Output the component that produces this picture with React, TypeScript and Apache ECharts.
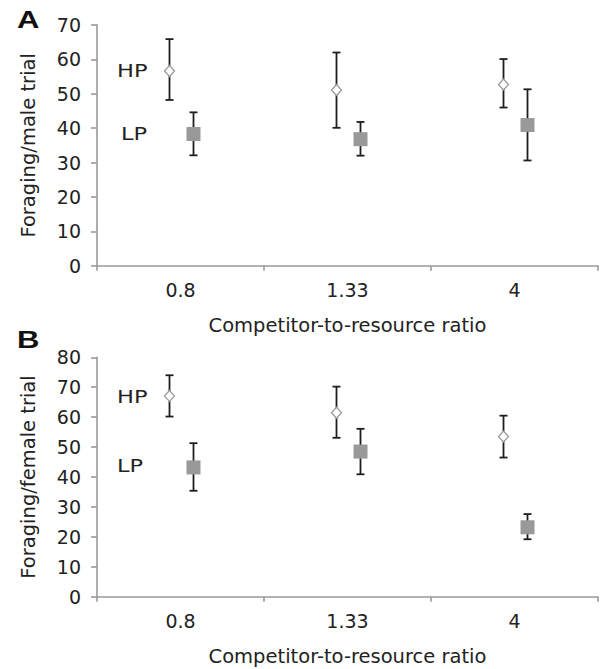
import React, { useEffect, useRef } from "react";
import * as echarts from "echarts";

const categories = ["0.8", "1.33", "4"];

const maleHP = [56.6, 51.1, 52.7];
const maleHPLow = [48.2, 40.1, 46.0];
const maleHPHigh = [65.9, 62.0, 60.1];
const maleLP = [38.3, 36.8, 40.9];
const maleLPLow = [32.1, 32.0, 30.6];
const maleLPHigh = [44.6, 41.8, 51.3];

const femaleHP = [67.1, 61.5, 53.5];
const femaleHPLow = [60.2, 53.1, 46.5];
const femaleHPHigh = [74.0, 70.2, 60.5];
const femaleLP = [43.2, 48.5, 23.2];
const femaleLPLow = [35.4, 40.9, 19.2];
const femaleLPHigh = [51.3, 56.1, 27.6];

const FONT = "DejaVu Sans";
const TEXT = "#222222";
const AXIS = "#9a9a9a";
const HP_OFF = -11;
const LP_OFF = 13;

function errorSeries(gridIdx: number, low: number[], high: number[], off: number) {
  return {
    type: "custom",
    xAxisIndex: gridIdx,
    yAxisIndex: gridIdx,
    z: 2,
    data: low.map((l, i) => [i, l, high[i]]),
    renderItem: (params: any, api: any) => {
      const i = api.value(0);
      const top = api.coord([i, api.value(2)]);
      const bot = api.coord([i, api.value(1)]);
      const x = top[0] + off;
      const cap = 4;
      const style = { stroke: "#1e1e1e", lineWidth: 1.8 };
      return {
        type: "group",
        children: [
          { type: "line", shape: { x1: x, y1: top[1], x2: x, y2: bot[1] }, style },
          { type: "line", shape: { x1: x - cap, y1: top[1], x2: x + cap, y2: top[1] }, style },
          { type: "line", shape: { x1: x - cap, y1: bot[1], x2: x + cap, y2: bot[1] }, style },
        ],
      };
    },
  };
}

function hpSeries(gridIdx: number, values: number[]) {
  return {
    type: "scatter",
    xAxisIndex: gridIdx,
    yAxisIndex: gridIdx,
    z: 5,
    symbol: "diamond",
    symbolSize: [10, 11],
    symbolOffset: [HP_OFF, 0],
    itemStyle: { color: "#ffffff", borderColor: "#9a9a9a", borderWidth: 1.3, opacity: 1 },
    data: values,
  };
}

function lpSeries(gridIdx: number, values: number[]) {
  return {
    type: "scatter",
    xAxisIndex: gridIdx,
    yAxisIndex: gridIdx,
    z: 5,
    symbol: "rect",
    symbolSize: 14,
    symbolOffset: [LP_OFF, 0],
    itemStyle: { color: "#999999", opacity: 1 },
    data: values,
  };
}

function xAxis(gridIdx: number) {
  return {
    type: "category",
    gridIndex: gridIdx,
    data: categories,
    boundaryGap: true,
    axisLine: { lineStyle: { color: AXIS, width: 1.6 } },
    axisTick: { show: true, length: 5, lineStyle: { color: AXIS, width: 1.6 } },
    axisLabel: { color: TEXT, fontSize: 19, fontFamily: FONT, margin: 15 },
    name: "Competitor-to-resource ratio",
    nameLocation: "middle",
    nameGap: 50,
    nameTextStyle: { color: TEXT, fontSize: 19.5, fontFamily: FONT },
  };
}

function yAxis(gridIdx: number, max: number, name: string) {
  return {
    type: "value",
    gridIndex: gridIdx,
    min: 0,
    max,
    interval: 10,
    splitLine: { show: false },
    axisLine: { show: true, lineStyle: { color: AXIS, width: 1.6 } },
    axisTick: { show: true, length: 6, lineStyle: { color: AXIS, width: 1.6 } },
    axisLabel: { color: TEXT, fontSize: 19, fontFamily: FONT, margin: 16 },
    name,
    nameLocation: "middle",
    nameGap: 59,
    nameTextStyle: { color: TEXT, fontSize: 19.5, fontFamily: FONT },
  };
}

export default function App() {
  const ref = useRef<HTMLDivElement>(null);
  useEffect(() => {
    if (!ref.current) return;
    const chart = echarts.init(ref.current, null, { renderer: "svg" });
    const labelStyle = { fill: TEXT, fontSize: 18, fontFamily: FONT };
    const letterStyle = { fill: "#111", fontSize: 23, fontWeight: "bold", fontFamily: "Liberation Sans" };
    chart.setOption({
      animation: false,
      backgroundColor: "#ffffff",
      grid: [
        { left: 97, right: 2, top: 25, height: 240.7 },
        { left: 97, right: 2, top: 357.3, height: 239.4 },
      ],
      xAxis: [xAxis(0), xAxis(1)],
      yAxis: [yAxis(0, 70, "Foraging/male trial"), yAxis(1, 80, "Foraging/female trial")],
      series: [
        errorSeries(0, maleHPLow, maleHPHigh, HP_OFF),
        errorSeries(0, maleLPLow, maleLPHigh, LP_OFF),
        hpSeries(0, maleHP),
        lpSeries(0, maleLP),
        errorSeries(1, femaleHPLow, femaleHPHigh, HP_OFF),
        errorSeries(1, femaleLPLow, femaleLPHigh, LP_OFF),
        hpSeries(1, femaleHP),
        lpSeries(1, femaleLP),
      ],
      graphic: [
        { type: "text", x: 17, y: 8, scaleX: 1.35, style: { text: "A", ...letterStyle } },
        { type: "text", x: 17, y: 328, scaleX: 1.35, style: { text: "B", ...letterStyle } },
        { type: "text", x: 117, y: 62, scaleX: 1.25, style: { text: "HP", ...labelStyle } },
        { type: "text", x: 121, y: 125, scaleX: 1.25, style: { text: "LP", ...labelStyle } },
        { type: "text", x: 117, y: 388, scaleX: 1.25, style: { text: "HP", ...labelStyle } },
        { type: "text", x: 117, y: 457, scaleX: 1.25, style: { text: "LP", ...labelStyle } },
      ],
    });
    return () => chart.dispose();
  }, []);
  return (
    <div
      ref={ref}
      style={{ position: "fixed", left: 0, top: 0, width: 600, height: 669, background: "#fff" }}
    />
  );
}
